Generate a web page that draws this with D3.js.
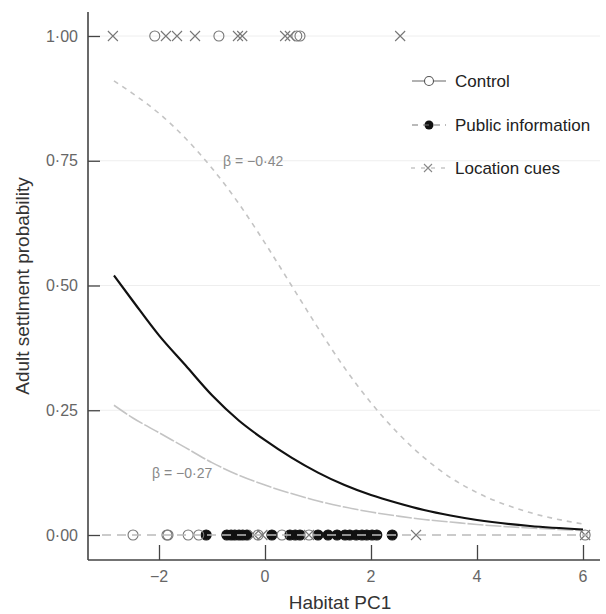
<!DOCTYPE html>
<html><head><meta charset="utf-8">
<script src="https://cdn.jsdelivr.net/npm/d3@7"></script>
<style>body{margin:0;background:#fff;font-family:"Liberation Sans",Arial,sans-serif}</style>
</head><body><svg id="c" width="606" height="614"></svg>
<script>
// ---- data ----
const xTicks = [-2, 0, 2, 4, 6];
const yTicks = [0, 0.25, 0.5, 0.75, 1];
const yTickLabels = ["0·00", "0·25", "0·50", "0·75", "1·00"];

// observed outcomes (habitat PC1 values)
const controlSettled   = [-2.08, -0.87, 0.6, 0.66];
const controlNot       = [-2.49, -1.85, -1.83, -1.45, -1.25, -0.13, 0.32, 0.83, 6.04];
const publicNot        = [-1.11, -0.72, -0.64, -0.57, -0.49, -0.42, -0.34, 0.13, 0.47, 0.57, 0.66,
                          1.0, 1.19, 1.36, 1.51, 1.6, 1.72, 1.83, 1.92, 2.02, 2.11, 2.4];
const locationSettled  = [-2.87, -1.87, -1.66, -1.32, -0.51, -0.43, 0.38, 0.47, 2.55];
const locationNot      = [-0.2, -0.05, 0.83, 2.85, 6.04];

// fitted curves (x, probability)
const curveX        = [-2.85, -2.5, -2, -1.5, -1, -0.5, 0, 0.5, 1, 1.5, 2, 2.5, 3, 3.5, 4, 5, 6];
const controlFit    = [0.52, 0.47, 0.40, 0.34, 0.28, 0.23, 0.19, 0.155, 0.125, 0.10, 0.08, 0.064, 0.05, 0.039, 0.03, 0.018, 0.011];
const publicFit     = [0.26, 0.235, 0.205, 0.175, 0.145, 0.12, 0.10, 0.083, 0.068, 0.056, 0.046, 0.038, 0.031, 0.026, 0.021, 0.014, 0.009];
const locationFit   = [0.91, 0.885, 0.845, 0.795, 0.735, 0.665, 0.585, 0.50, 0.415, 0.335, 0.265, 0.205, 0.155, 0.115, 0.085, 0.045, 0.022];

const legendLabels = ["Control", "Public information", "Location cues"];
const betaLabels = ["β = −0·42", "β = −0·27"];

// ---- drawing ----
const svg = d3.select("#c");
const x = d3.scaleLinear().domain([0, 6]).range([265, 583]);
const y = d3.scaleLinear().domain([0, 1]).range([535, 36]);
const xMin = x.invert(88), xMax = x.invert(600);
const yMin = y.invert(560), yMax = y.invert(12);

const g = svg.append("g");

// faint grid lines at tick levels
g.selectAll(".grid").data(yTicks.filter(d => d > 0)).join("line")
  .attr("x1", x(xMin)).attr("x2", x(xMax))
  .attr("y1", d => y(d)).attr("y2", d => y(d))
  .attr("stroke", "#eeeeee").attr("stroke-width", 1);

// fitted curves
const line = d3.line().x(d => x(d[0])).y(d => y(d[1])).curve(d3.curveMonotoneX);
const mk = arr => curveX.map((v, i) => [v, arr[i]]);
g.append("path").attr("d", line(mk(locationFit))).attr("fill", "none")
  .attr("stroke", "#c4c4c4").attr("stroke-width", 1.6).attr("stroke-dasharray", "5,5");
g.append("path").attr("d", line(mk(publicFit))).attr("fill", "none")
  .attr("stroke", "#c4c4c4").attr("stroke-width", 1.6).attr("stroke-dasharray", "16,2");
g.append("path").attr("d", line(mk(controlFit))).attr("fill", "none")
  .attr("stroke", "#111").attr("stroke-width", 2.2);

// points
const r = 5;
function circles(data, yv, filled) {
  g.selectAll(null).data(data).join("circle")
    .attr("cx", d => x(d)).attr("cy", y(yv)).attr("r", r)
    .attr("fill", filled ? "#111" : "#fff").attr("fill-opacity", filled ? 1 : 0)
    .attr("stroke", filled ? "#111" : "#777").attr("stroke-width", 1.1);
}
function crosses(data, yv) {
  const s = 5;
  const gg = g.selectAll(null).data(data).join("g")
    .attr("transform", d => `translate(${x(d)},${y(yv)})`);
  gg.append("path").attr("d", `M${-s},${-s}L${s},${s}M${-s},${s}L${s},${-s}`)
    .attr("stroke", "#777").attr("stroke-width", 1.1).attr("fill", "none");
}
circles(controlSettled, 1, false);
crosses(locationSettled, 1);
circles(publicNot, 0, true);
circles(controlNot, 0, false);
crosses(locationNot, 0);

// dashed reference line at y = 0
g.append("line").attr("x1", x(xMin) + 14).attr("x2", x(6.1))
  .attr("y1", y(0)).attr("y2", y(0))
  .attr("stroke", "#bbbbbb").attr("stroke-width", 1.5).attr("stroke-dasharray", "9,6");

// axes
const axisColor = "#444";
g.append("line").attr("x1", x(xMin)).attr("x2", x(xMin)).attr("y1", y(yMax)).attr("y2", y(yMin))
  .attr("stroke", axisColor).attr("stroke-width", 1.6);
g.append("line").attr("x1", x(xMin)).attr("x2", x(xMax)).attr("y1", y(yMin)).attr("y2", y(yMin))
  .attr("stroke", axisColor).attr("stroke-width", 1.6);

const xAxis = d3.axisTop(x).tickValues(xTicks).tickSize(15).tickFormat("");
const xa = g.append("g").attr("transform", `translate(0,${y(yMin)})`).call(xAxis);
xa.select(".domain").remove();
xa.selectAll("line").attr("stroke", axisColor).attr("stroke-width", 1.3);
g.selectAll(".xtl").data(xTicks).join("text")
  .attr("x", d => x(d)).attr("y", y(yMin) + 22).attr("text-anchor", "middle")
  .attr("font-size", 16).attr("fill", "#666")
  .text(d => d < 0 ? "−" + Math.abs(d) : d);

const yAxis = d3.axisRight(y).tickValues(yTicks).tickSize(12).tickFormat("");
const ya = g.append("g").attr("transform", `translate(${x(xMin)},0)`).call(yAxis);
ya.select(".domain").remove();
ya.selectAll("line").attr("stroke", axisColor).attr("stroke-width", 1.3);
g.selectAll(".ytl").data(yTicks).join("text")
  .attr("x", x(xMin) - 10).attr("y", d => y(d)).attr("dy", "0.35em").attr("text-anchor", "end")
  .attr("font-size", 16).attr("fill", "#666")
  .text((d, i) => yTickLabels[i]);

// axis titles
svg.append("text").attr("x", 340).attr("y", 609).attr("text-anchor", "middle")
  .attr("font-size", 19).attr("fill", "#333").text("Habitat PC1");
svg.append("text").attr("transform", `translate(29,${(y(yMax) + y(yMin)) / 2}) rotate(-90)`)
  .attr("text-anchor", "middle").attr("font-size", 19).attr("fill", "#333")
  .text("Adult settlment probability");

// beta labels
svg.append("text").attr("x", 223).attr("y", 166).attr("font-size", 14).attr("fill", "#888").text(betaLabels[0]);
svg.append("text").attr("x", 152).attr("y", 478).attr("font-size", 14).attr("fill", "#888").text(betaLabels[1]);

// legend
const legY = [81, 125, 168];
const lg = svg.append("g");
// Control
lg.append("line").attr("x1", 412).attr("x2", 446).attr("y1", legY[0]).attr("y2", legY[0]).attr("stroke", "#666").attr("stroke-width", 1.2);
lg.append("circle").attr("cx", 429).attr("cy", legY[0]).attr("r", 4.5).attr("fill", "#fff").attr("stroke", "#555").attr("stroke-width", 1.1);
// Public information
lg.append("circle").attr("cx", 429).attr("cy", legY[1]).attr("r", 4.5).attr("fill", "#111");
lg.append("line").attr("x1", 412).attr("x2", 446).attr("y1", legY[1]).attr("y2", legY[1]).attr("stroke", "#777").attr("stroke-width", 1.2).attr("stroke-dasharray", "6,5");
// Location cues
lg.append("line").attr("x1", 411).attr("x2", 446).attr("y1", legY[2]).attr("y2", legY[2]).attr("stroke", "#aaa").attr("stroke-width", 1.2).attr("stroke-dasharray", "4,6");
lg.append("path").attr("d", `M424,${legY[2]-4}L432,${legY[2]+4}M424,${legY[2]+4}L432,${legY[2]-4}`).attr("stroke", "#888").attr("stroke-width", 1.1);
lg.selectAll("text").data(legendLabels).join("text")
  .attr("x", 455).attr("y", (d, i) => legY[i]).attr("dy", "0.35em")
  .attr("font-size", 17).attr("fill", "#222").text(d => d);
</script></body></html>
